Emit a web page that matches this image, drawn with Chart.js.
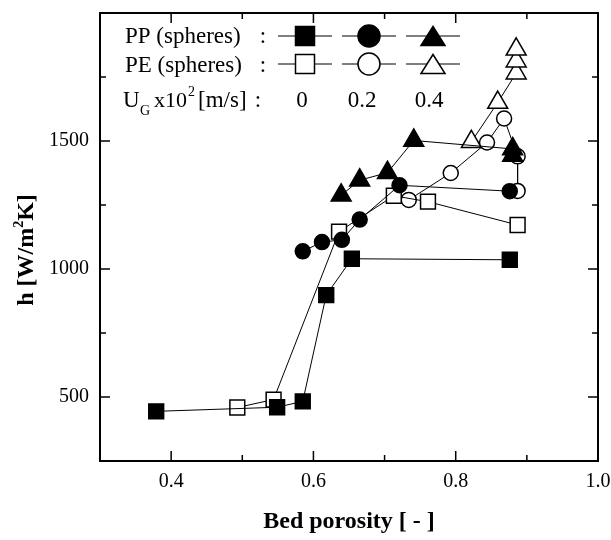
<!DOCTYPE html>
<html>
<head>
<meta charset="utf-8">
<script src="https://cdn.jsdelivr.net/npm/chart.js@4.4.0/dist/chart.umd.min.js"></script>
<style>
  html, body { margin: 0; padding: 0; background: #fff; }
</style>
</head>
<body>
<canvas id="chart" width="611" height="540"></canvas>
<script>
// bed porosity [-] and heat transfer coefficient h [W/m2K]
const ppPorosity0  = [0.379, 0.549, 0.585, 0.618, 0.654, 0.876];
const ppH0         = [444, 460, 483, 898, 1040, 1036];
const ppPorosity02 = [0.585, 0.612, 0.640, 0.665, 0.721, 0.876];
const ppH02        = [1069, 1105, 1114, 1193, 1327, 1304];
const ppPorosity04 = [0.639, 0.665, 0.704, 0.741, 0.880, 0.880];
const ppH04        = [1288, 1347, 1376, 1502, 1469, 1443];

const pePorosity0  = [0.493, 0.544, 0.636, 0.713, 0.761, 0.887];
const peH0         = [459, 490, 1146, 1286, 1263, 1172];
const pePorosity02 = [0.734, 0.793, 0.844, 0.868, 0.887, 0.887];
const peH02        = [1270, 1375, 1494, 1588, 1440, 1305];
const pePorosity04 = [0.822, 0.859, 0.885, 0.885, 0.885];
const peH04        = [1497, 1650, 1765, 1812, 1858];

const xTickLabels = ['0.4', '0.6', '0.8', '1.0'];
const yTickLabels = ['500', '1000', '1500'];
const legendNames = ['PP (spheres)', 'PE (spheres)'];
const ugValues = ['0', '0.2', '0.4'];

const SERIF = '"Liberation Serif", "DejaVu Serif", serif';

function toPoints(xs, ys) {
  return xs.map((x, i) => ({ x: x, y: ys[i] }));
}

function series(xs, ys, style, filled, radius) {
  return {
    data: toPoints(xs, ys),
    showLine: true,
    borderColor: '#000',
    borderWidth: 1,
    pointStyle: style,
    pointRadius: radius,
    pointHoverRadius: radius,
    pointBackgroundColor: filled ? '#000' : '#fff',
    pointBorderColor: '#000',
    pointBorderWidth: 1.5,
  };
}

function drawMarker(ctx, style, x, y, w, h, filled) {
  ctx.beginPath();
  if (style === 'rect') {
    ctx.rect(x - w / 2, y - h / 2, w, h);
  } else if (style === 'circle') {
    ctx.arc(x, y, w / 2, 0, Math.PI * 2);
  } else {
    ctx.moveTo(x, y - h / 2);
    ctx.lineTo(x + w / 2, y + h / 2);
    ctx.lineTo(x - w / 2, y + h / 2);
    ctx.closePath();
  }
  ctx.fillStyle = filled ? '#000' : '#fff';
  ctx.fill();
  ctx.lineWidth = 1.5;
  ctx.strokeStyle = '#000';
  ctx.stroke();
}

const framePlugin = {
  id: 'frame',
  afterDraw(chart) {
    const ctx = chart.ctx;
    const a = chart.chartArea;
    const xs = chart.scales.x;
    const ys = chart.scales.y;
    ctx.save();

    // frame
    ctx.strokeStyle = '#000';
    ctx.lineWidth = 2;
    ctx.strokeRect(a.left, a.top, a.right - a.left, a.bottom - a.top);

    // inward ticks on all four sides
    ctx.lineWidth = 1.5;
    ctx.beginPath();
    xs.ticks.forEach(t => {
      const px = xs.getPixelForValue(t.value);
      const major = xTickLabels.includes(t.value.toFixed(1));
      const len = major ? 10 : 6;
      ctx.moveTo(px, a.bottom); ctx.lineTo(px, a.bottom - len);
      ctx.moveTo(px, a.top); ctx.lineTo(px, a.top + len);
    });
    ys.ticks.forEach(t => {
      const py = ys.getPixelForValue(t.value);
      const major = t.value % 500 === 0;
      const len = major ? 10 : 6;
      ctx.moveTo(a.left, py); ctx.lineTo(a.left + len, py);
      ctx.moveTo(a.right, py); ctx.lineTo(a.right - len, py);
    });
    ctx.stroke();

    // axis titles
    ctx.fillStyle = '#000';
    ctx.font = 'bold 24px ' + SERIF;
    ctx.textAlign = 'center';
    ctx.textBaseline = 'alphabetic';
    ctx.fillText('Bed porosity [ - ]', (a.left + a.right) / 2, 528);

    ctx.save();
    ctx.translate(33, 250);
    ctx.rotate(-Math.PI / 2);
    ctx.textAlign = 'left';
    const p1 = 'h [W/m', p3 = 'K]';
    ctx.font = 'bold 24px ' + SERIF;
    const w1 = ctx.measureText(p1).width;
    const w3 = ctx.measureText(p3).width;
    ctx.font = 'bold 14px ' + SERIF;
    const w2 = ctx.measureText('2').width;
    let sx = -(w1 + w2 + w3) / 2;
    ctx.font = 'bold 24px ' + SERIF;
    ctx.fillText(p1, sx, 0);
    ctx.font = 'bold 14px ' + SERIF;
    ctx.fillText('2', sx + w1, -10);
    ctx.font = 'bold 24px ' + SERIF;
    ctx.fillText(p3, sx + w1 + w2, 0);
    ctx.restore();

    // legend block
    ctx.font = '23px ' + SERIF;
    ctx.textAlign = 'left';
    ctx.fillText(legendNames[0], 125, 43);
    ctx.fillText(legendNames[1], 125, 72);
    ctx.textAlign = 'center';
    ctx.fillText(':', 263, 43);
    ctx.fillText(':', 263, 72);

    const keyX = [305, 369, 433];
    const lineX = [[278, 332], [342, 396], [406, 460]];
    const styles = ['rect', 'circle', 'triangle'];
    const sizes = [[19, 19], [22, 22], [24, 19]];
    [36, 64].forEach((ky, row) => {
      for (let i = 0; i < 3; i++) {
        ctx.lineWidth = 1;
        ctx.strokeStyle = '#000';
        ctx.beginPath();
        ctx.moveTo(lineX[i][0], ky);
        ctx.lineTo(lineX[i][1], ky);
        ctx.stroke();
        drawMarker(ctx, styles[i], keyX[i], ky, sizes[i][0], sizes[i][1], row === 0);
      }
    });

    // U_G x10^2 [m/s] :
    ctx.fillStyle = '#000';
    ctx.textAlign = 'left';
    ctx.font = '23px ' + SERIF;
    ctx.fillText('U', 123, 107);
    ctx.font = '14px ' + SERIF;
    ctx.fillText('G', 140, 115);
    ctx.font = '22px ' + SERIF;
    ctx.fillText('x10', 154, 107);
    ctx.font = '14px ' + SERIF;
    ctx.fillText('2', 188, 96);
    ctx.font = '23px ' + SERIF;
    ctx.fillText('[m/s]', 198, 107);
    ctx.textAlign = 'center';
    ctx.fillText(':', 258, 107);
    const valX = [302, 362, 429];
    ugValues.forEach((v, i) => ctx.fillText(v, valX[i], 107));

    ctx.restore();
  }
};

new Chart(document.getElementById('chart'), {
  type: 'scatter',
  data: {
    datasets: [
      series(ppPorosity0, ppH0, 'rect', true, 10.5),
      series(ppPorosity02, ppH02, 'circle', true, 7.5),
      series(ppPorosity04, ppH04, 'triangle', true, 11.5),
      series(pePorosity0, peH0, 'rect', false, 10.5),
      series(pePorosity02, peH02, 'circle', false, 7.5),
      series(pePorosity04, peH04, 'triangle', false, 11.5),
    ]
  },
  options: {
    responsive: false,
    animation: false,
    layout: { padding: { top: 8, right: 13, left: 0, bottom: 0 } },
    plugins: {
      legend: { display: false },
      tooltip: { enabled: false },
    },
    scales: {
      x: {
        type: 'linear',
        min: 0.3,
        max: 1.0,
        grid: { display: false, drawTicks: false },
        border: { display: false },
        ticks: {
          stepSize: 0.1,
          autoSkip: false,
          maxRotation: 0,
          padding: 9,
          color: '#000',
          font: { family: SERIF, size: 20 },
          callback: v => xTickLabels.includes(Number(v).toFixed(1)) ? Number(v).toFixed(1) : '',
        },
        afterFit: s => { s.height = 79; s.paddingLeft = 0; s.paddingRight = 0; },
      },
      y: {
        type: 'linear',
        min: 250,
        max: 2000,
        grid: { display: false, drawTicks: false },
        border: { display: false },
        ticks: {
          stepSize: 250,
          autoSkip: false,
          padding: 11,
          color: '#000',
          font: { family: SERIF, size: 20 },
          callback: v => yTickLabels.includes(String(v)) ? String(v) : '',
        },
        afterFit: s => { s.width = 100; s.paddingTop = 0; s.paddingBottom = 0; },
      }
    }
  },
  plugins: [framePlugin]
});
</script>
</body>
</html>
